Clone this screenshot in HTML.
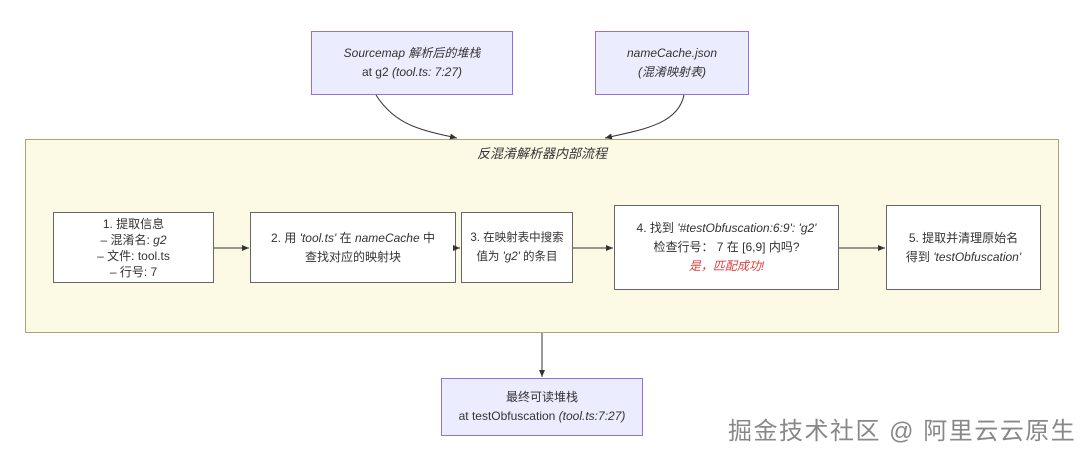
<!DOCTYPE html>
<html><head><meta charset="utf-8"><style>
body{margin:0;width:1080px;height:454px;background:#fff;position:relative;overflow:hidden;font-family:"Liberation Sans","Noto Sans CJK SC",sans-serif;color:#333;}
.b{position:absolute;box-sizing:border-box;display:flex;align-items:center;justify-content:center;text-align:center;font-size:12px;line-height:19px;}
.p{background:#ECECFF;border:1px solid #9370DB;}
.w{background:#fff;border:1px solid #666;}
i{font-style:italic}
</style></head><body>
<div class="b" style="left:25px;top:139px;width:1034px;height:194px;background:#FCF9E4;border:1px solid #B8A070;"></div>
<div class="b" style="left:25px;top:143px;width:1034px;height:20px;font-size:13px;"><i>反混淆解析器内部流程</i></div>
<div class="b p" style="left:311px;top:31px;width:202px;height:64px;"><div><i>Sourcemap 解析后的堆栈</i><br>at g2 <i>(tool.ts: 7:27)</i></div></div>
<div class="b p" style="left:595px;top:31px;width:154px;height:64px;"><div><i>nameCache.json</i><br><i>(混淆映射表)</i></div></div>
<div class="b w" style="left:53px;top:212px;width:161px;height:71px;line-height:16px;"><div>1. 提取信息<br>– 混淆名: <i>g2</i><br>– 文件: tool.ts<br>– 行号: 7</div></div>
<div class="b w" style="left:250px;top:212px;width:206px;height:71px;"><div>2. 用 <i>'tool.ts'</i> 在 <i>nameCache</i> 中<br>查找对应的映射块</div></div>
<div class="b w" style="left:461px;top:212px;width:112px;height:71px;font-size:11.5px;"><div>3. 在映射表中搜索<br>值为 <i>'g2'</i> 的条目</div></div>
<div class="b w" style="left:614px;top:205px;width:225px;height:85px;"><div>4. 找到 <i>'#testObfuscation:6:9': 'g2'</i><br>检查行号： 7 在 [6,9] 内吗?<br><span style="color:#e04040"><i>是，匹配成功!</i></span></div></div>
<div class="b w" style="left:886px;top:205px;width:155px;height:85px;"><div>5. 提取并清理原始名<br>得到 <i>'testObfuscation'</i></div></div>
<div class="b p" style="left:441px;top:378px;width:202px;height:58px;font-size:12px;"><div>最终可读堆栈<br>at testObfuscation <i>(tool.ts:7:27)</i></div></div>
<svg style="position:absolute;left:0;top:0" width="1080" height="454">
<defs><marker id="a" markerWidth="8" markerHeight="8" refX="7" refY="4" orient="auto"><path d="M0,1 L7,4 L0,7z" fill="#333"/></marker></defs>
<g stroke="#333" fill="none" stroke-width="1">
<path d="M376,95 C395,125 420,130 457,138" marker-end="url(#a)"/>
<path d="M684,95 C678,125 640,130 605,138" marker-end="url(#a)"/>
<path d="M214,248 L249,248" marker-end="url(#a)"/>
<path d="M456,248 L460,248" marker-end="url(#a)"/>
<path d="M573,248 L613,248" marker-end="url(#a)"/>
<path d="M839,248 L885,248" marker-end="url(#a)"/>
<path d="M542,333 L542,377" marker-end="url(#a)"/>
</g></svg>
<div style="position:absolute;left:728px;top:411px;font-size:24px;color:#888;text-shadow:0 0 1px #fff,1px 1px 0 #fff;letter-spacing:1.5px;white-space:nowrap">掘金技术社区 @ 阿里云云原生</div>
</body></html>
